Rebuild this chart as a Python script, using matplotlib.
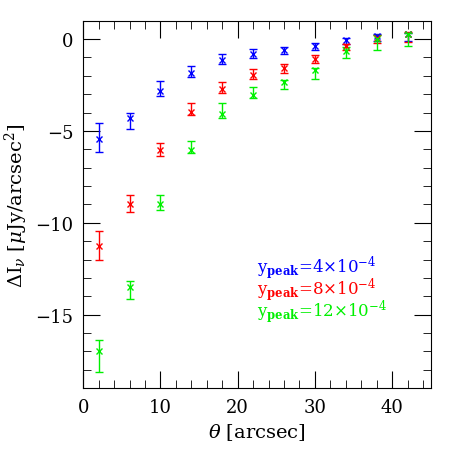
import matplotlib
matplotlib.use("Agg")
import matplotlib.pyplot as plt
from matplotlib.ticker import MultipleLocator

plt.rcParams['font.family'] = ['DejaVu Serif']
plt.rcParams['mathtext.fontset'] = 'dejavuserif'

# angular radius of each ring
theta = [2, 6, 10, 14, 18, 22, 26, 30, 34, 38, 42]

# y_peak = 4e-4
blue = [-5.45, -4.31, -2.8, -1.82, -1.15, -0.82, -0.6, -0.4, -0.05, 0.15, 0.25]
blue_lo = [0.7, 0.6, 0.3, 0.27, 0.22, 0.22, 0.22, 0.2, 0.2, 0.28, 0.35]
blue_hi = [0.9, 0.3, 0.5, 0.33, 0.35, 0.27, 0.16, 0.18, 0.13, 0.12, 0.1]

# y_peak = 8e-4
red = [-11.27, -8.97, -6.05, -3.95, -2.7, -1.95, -1.55, -1.07, -0.37, 0.05, 0.25]
red_lo = [0.78, 0.45, 0.31, 0.18, 0.21, 0.2, 0.27, 0.24, 0.2, 0.28, 0.4]
red_hi = [0.82, 0.48, 0.38, 0.49, 0.37, 0.33, 0.19, 0.22, 0.1, 0.15, 0.12]

# y_peak = 12e-4
green = [-16.95, -13.49, -9.0, -6.05, -4.1, -3.05, -2.35, -1.69, -0.67, 0.0, 0.3]
green_lo = [1.15, 0.66, 0.33, 0.13, 0.17, 0.17, 0.38, 0.46, 0.38, 0.6, 0.65]
green_hi = [0.55, 0.34, 0.49, 0.49, 0.62, 0.42, 0.13, 0.14, 0.22, 0.2, 0.05]

fig = plt.figure(figsize=(4.52, 4.52), dpi=100)
ax = fig.add_axes([0.184, 0.139, 0.769, 0.813])

for y, lo, hi, c in [(blue, blue_lo, blue_hi, '#0000ff'),
                     (red, red_lo, red_hi, '#ff0000'),
                     (green, green_lo, green_hi, '#00f000')]:
    ax.errorbar(theta, y, yerr=[lo, hi], fmt='x', color=c, ms=4, mew=1,
                elinewidth=1, capsize=3, capthick=1)

ax.set_xlim(0, 45)
ax.set_ylim(-19, 1)
ax.xaxis.set_major_locator(MultipleLocator(10))
ax.xaxis.set_minor_locator(MultipleLocator(2))
ax.yaxis.set_major_locator(MultipleLocator(5))
ax.yaxis.set_minor_locator(MultipleLocator(1))
ax.tick_params(which='both', direction='in', top=True, right=True,
               labelsize=13, pad=7)
ax.tick_params(which='major', length=12)
ax.tick_params(which='minor', length=6)

ax.set_xlabel(r'$\theta$ [arcsec]', fontsize=14)
ax.set_ylabel(r'$\Delta$I$_\nu$ [$\mu$Jy/arcsec$^2$]', fontsize=14)

ax.text(22.5, -12.7, r'y$_{\mathbf{peak}}$=4$\times$10$^{-4}$', color='#0000ff', fontsize=12)
ax.text(22.5, -13.9, r'y$_{\mathbf{peak}}$=8$\times$10$^{-4}$', color='#ff0000', fontsize=12)
ax.text(22.5, -15.1, r'y$_{\mathbf{peak}}$=12$\times$10$^{-4}$', color='#00f000', fontsize=12)

fig.savefig('out.png', dpi=100)
